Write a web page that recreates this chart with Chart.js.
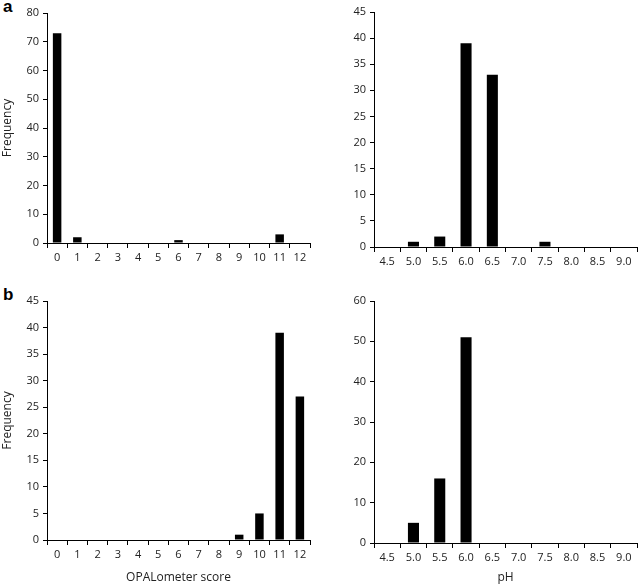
<!DOCTYPE html>
<html>
<head>
<meta charset="utf-8">
<script src="https://cdn.jsdelivr.net/npm/chart.js@4/dist/chart.umd.min.js"></script>
<style>
    body { margin: 0; background: #fff; }
    .panel { position: absolute; }
    .tag { position: absolute; font: bold 17px "Liberation Sans", Arial, sans-serif; color: #000; }
</style>
</head>
<body>
<div class="tag" style="left:3px; top:-3px;">a</div>
<div class="tag" style="left:3px; top:285px;">b</div>
<div class="panel" style="left:0; top:0;"><canvas id="chartA1" width="320" height="273"></canvas></div>
<div class="panel" style="left:320px; top:0;"><canvas id="chartA2" width="318" height="277"></canvas></div>
<div class="panel" style="left:0; top:285px;"><canvas id="chartB1" width="320" height="300"></canvas></div>
<div class="panel" style="left:320px; top:285px;"><canvas id="chartB2" width="318" height="300"></canvas></div>
<script>
// OPALometer score categories and pH categories
var scoreLabels = ['0', '1', '2', '3', '4', '5', '6', '7', '8', '9', '10', '11', '12'];
var phLabels = ['4.5', '5.0', '5.5', '6.0', '6.5', '7.0', '7.5', '8.0', '8.5', '9.0'];

// panel a
var scoreFreqA = [73, 2, 0, 0, 0, 0, 1, 0, 0, 0, 0, 3, 0];
var phFreqA = [0, 1, 2, 39, 33, 0, 1, 0, 0, 0];

// panel b
var scoreFreqB = [0, 0, 0, 0, 0, 0, 0, 0, 0, 1, 5, 39, 27];
var phFreqB = [0, 5, 16, 51, 0, 0, 0, 0, 0, 0];

var tickFont = { family: '"Open Sans", sans-serif', size: 11 };
var titleFont = { family: '"Open Sans", sans-serif', size: 12 };

function makeHistogram(id, labels, values, opts) {
    var ctx = document.getElementById(id).getContext('2d');
    return new Chart(ctx, {
        type: 'bar',
        data: {
            labels: labels,
            datasets: [
                {
                    data: values,
                    backgroundColor: '#000',
                    borderWidth: 0,
                    barPercentage: 0.42,
                    categoryPercentage: 1
                }
            ]
        },
        options: {
            responsive: false,
            animation: false,
            layout: {
                padding: { top: opts.top, right: opts.right, bottom: 0, left: 0 }
            },
            scales: {
                x: {
                    offset: true,
                    grid: {
                        offset: true,
                        drawOnChartArea: false,
                        drawTicks: true,
                        tickLength: 5,
                        color: '#000'
                    },
                    border: { display: true, color: '#000', width: 1 },
                    ticks: { color: '#222', font: tickFont, padding: 3, maxRotation: 0, autoSkip: false },
                    title: {
                        display: !!opts.xTitle,
                        text: opts.xTitle || '',
                        color: '#222',
                        font: titleFont,
                        padding: { top: 4, bottom: 0 }
                    },
                    afterFit: function(scale) { scale.height = opts.xHeight; }
                },
                y: {
                    min: 0,
                    max: opts.max,
                    ticks: { stepSize: opts.step, color: '#222', font: tickFont, padding: 4 },
                    grid: {
                        drawOnChartArea: false,
                        drawTicks: true,
                        tickLength: 4,
                        color: '#000'
                    },
                    border: { display: true, color: '#000', width: 1 },
                    title: {
                        display: !!opts.yTitle,
                        text: opts.yTitle || '',
                        color: '#222',
                        font: titleFont,
                        padding: { top: 0, bottom: 6 }
                    },
                    afterFit: function(scale) { scale.width = opts.yWidth; }
                }
            },
            plugins: {
                legend: { display: false },
                tooltip: { enabled: false }
            }
        }
    });
}

makeHistogram('chartA1', scoreLabels, scoreFreqA, {
    max: 80, step: 10, top: 13, right: 10, yWidth: 47, xHeight: 30, yTitle: 'Frequency'
});
makeHistogram('chartA2', phLabels, phFreqA, {
    max: 45, step: 5, top: 12, right: 1, yWidth: 54, xHeight: 30
});
makeHistogram('chartB1', scoreLabels, scoreFreqB, {
    max: 45, step: 5, top: 16, right: 10, yWidth: 47, xHeight: 45, yTitle: 'Frequency', xTitle: 'OPALometer score'
});
makeHistogram('chartB2', phLabels, phFreqB, {
    max: 60, step: 10, top: 16, right: 1, yWidth: 54, xHeight: 42, xTitle: 'pH'
});
</script>
</body>
</html>
